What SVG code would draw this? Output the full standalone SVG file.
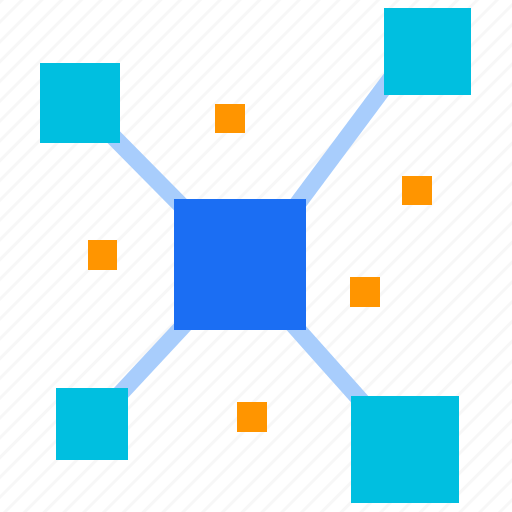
<svg xmlns="http://www.w3.org/2000/svg" width="512" height="512" viewBox="0 0 512 512">
<defs>
<pattern id="hatch" patternUnits="userSpaceOnUse" width="14" height="14" patternTransform="rotate(45)">
<rect x="0" y="0" width="3" height="14" fill="#f7f7f7"/>
</pattern>
<style>
.link{stroke:#a8cdfc;stroke-width:17;fill:none}
.leaf{fill:#00bfe0}
.hub{fill:#1b6ef3}
.dot{fill:#ff9500}
</style>
</defs>
<rect width="512" height="512" fill="#ffffff"/>
<rect width="512" height="512" fill="url(#hatch)"/>
<g id="connectors">
<line class="link" x1="240" y1="265" x2="80" y2="103"/>
<line class="link" x1="252" y1="265" x2="412" y2="50"/>
<line class="link" x1="240" y1="265" x2="92" y2="424"/>
<line class="link" x1="240" y1="265" x2="405" y2="450"/>
</g>
<g id="hub"><rect class="hub" x="174" y="199" width="132" height="131"/></g>
<g id="node-tl"><rect class="leaf" x="40" y="63" width="80" height="80"/></g>
<g id="node-tr"><rect class="leaf" x="384" y="8" width="87" height="87"/></g>
<g id="node-bl"><rect class="leaf" x="56" y="388" width="72" height="72"/></g>
<g id="node-br"><rect class="leaf" x="351" y="396" width="108" height="107"/></g>
<g id="dots">
<rect class="dot" x="215" y="104" width="30" height="29"/>
<rect class="dot" x="402" y="176" width="30" height="29"/>
<rect class="dot" x="88" y="240" width="29" height="30"/>
<rect class="dot" x="350" y="277" width="30" height="30"/>
<rect class="dot" x="237" y="402" width="30" height="30"/>
</g>
</svg>
